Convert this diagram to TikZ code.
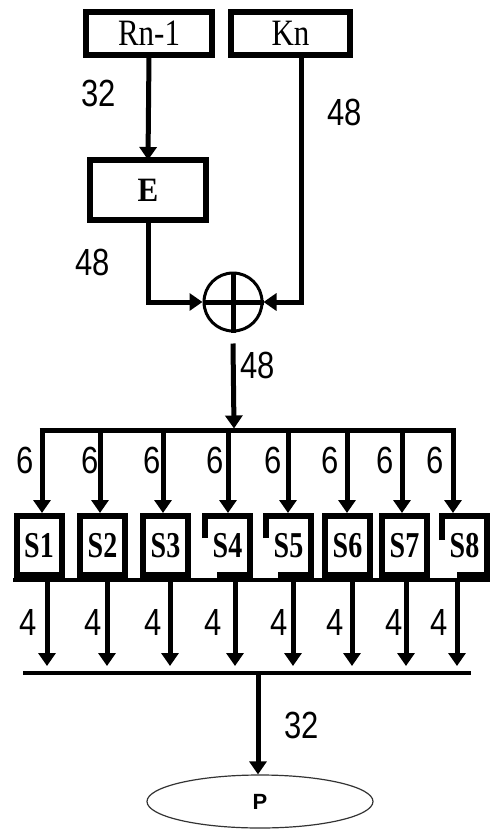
\documentclass[tikz,border=0pt]{standalone}
\usepackage{fontspec}
\usepackage{graphicx}
\setmainfont{Liberation Serif}
\newfontfamily\numfont{Liberation Sans}
\usetikzlibrary{arrows.meta,shapes.geometric}

% bit-width labels (sans) and box captions (serif), slightly tall
\newcommand\bits[1]{\scalebox{1}[1.22]{\numfont\fontsize{31}{31}\selectfont #1}}
\newcommand\boxcap[2]{\scalebox{1}[#1]{\fontsize{31}{31}\selectfont #2}}
\newcommand\scap[1]{\scalebox{1}[1.3]{\fontsize{28}{28}\selectfont\bfseries #1}}

\begin{document}
\begin{tikzpicture}[x=1pt,y=-1pt,
  blk/.style={draw, line width=6pt, inner sep=0pt, outer sep=0pt, line join=miter},
  sbox/.style={blk, minimum width=45pt, minimum height=59pt},
  sopen/.style={sbox, draw=none},
  conn/.style={line width=5pt},
  arr/.style={conn, -{Triangle[length=13pt,width=17pt]}},
  lbl/.style={inner sep=0pt, outer sep=0pt}]

\useasboundingbox (0,0) rectangle (491,830);

% input registers and expansion box
\node[blk, minimum width=126pt, minimum height=43pt] (R) at (149,33.5) {\boxcap{1.2}{Rn-1}};
\node[blk, minimum width=119pt, minimum height=43pt] (K) at (290.5,33.5) {\boxcap{1.2}{Kn}};
\node[blk, minimum width=116pt, minimum height=60pt] (E) at (148,190) {\boxcap{1.1}{\textbf{E}}};

% XOR
\node[draw, circle, line width=3pt, minimum size=58pt, inner sep=0pt] (X) at (233,302) {};
\draw[conn] (X.west) -- (X.east);
\draw[conn] (X.north) -- (X.south);

\draw[arr] (R.south) -- (E.north);
\draw[arr] (E.south) |- (X.west);
\coordinate (kdrop) at ([xshift=10.5pt]K.south);
\draw[arr] (kdrop) |- (X.east);

% split of the 48 bits into eight groups of six
\coordinate (split) at (234,430.5);
\draw[arr] ([yshift=-11pt]X.south) -- ([yshift=2pt]split);
\coordinate (barL) at (39.5,430.5);
\coordinate (barR) at (455.5,430.5);
\draw[conn] (barL) -- (barR);

\foreach \i/\ax in {1/42,2/100,3/163,4/228,5/288,6/347,7/402,8/453}{
  \coordinate (in\i) at (\ax,513);
  \draw[arr] (in\i |- split) -- (in\i);
}

% S-boxes
\foreach \i/\cx/\st in {1/39/sbox,2/102.5/sbox,3/165.5/sbox,4/227.5/sopen,
                        5/288.5/sopen,6/347.5/sbox,7/404.5/sbox,8/464.5/sopen}{
  \node[\st] (S\i) at (\cx,545.5) {\scap{S\i}};
}
\draw[line width=6pt, line join=miter] ([yshift=-22pt]S4.north west) -- (S4.north west)
  -- (S4.north east) -- (S4.south east) -- ([xshift=12pt]S4.south west);
\draw[line width=6pt, line join=miter] ([yshift=-22pt]S5.north west) -- (S5.north west)
  -- (S5.north east) -- (S5.south east) -- ([xshift=12pt]S5.south west);
\draw[line width=6pt, line join=miter] ([yshift=-24pt]S8.north west) -- (S8.north west)
  -- (S8.north east) -- (S8.south east) -- ([xshift=15pt]S8.south west);

% strip joining the S-box bottoms
\coordinate (stripL) at (13,580);
\coordinate (stripR) at (490,580);
\draw[line width=4pt] (stripL) -- (stripR);

% outputs of the S-boxes
\coordinate (merge) at (258,673);
\foreach \i/\ox in {1/47,2/107,3/170,4/235,5/293,6/352,7/406,8/457}{
  \coordinate (out\i) at (\ox,582);
  \draw[arr] (out\i) -- (\ox,666);
}
\coordinate (mergeL) at (23,673);
\coordinate (mergeR) at (471,673);
\draw[line width=4pt] (mergeL) -- (mergeR);

% permutation
\node[draw=black!80, line width=1.2pt, ellipse, minimum width=226pt, minimum height=53pt,
      inner sep=0pt] (P) at (260,801.5) {\numfont\fontsize{22}{22}\selectfont\bfseries P};
\draw[arr] (merge) -- (merge |- P.north);

% bit widths
\node[lbl] (w32a) at (99,93) {\bits{32}};
\node[lbl] (w48k) at (345,112) {\bits{48}};
\node[lbl] (w48e) at (93,262) {\bits{48}};
\node[lbl] (w48x) at (258,365) {\bits{48}};
\foreach \i/\lx in {1/25,2/90,3/152,4/215,5/273,6/330,7/385,8/435}{
  \node[lbl] (six\i) at (\lx,460) {\bits{6}};
}
\foreach \i/\lx in {1/28,2/93,3/153,4/213,5/279,6/335,7/394,8/439}{
  \node[lbl] (four\i) at (\lx,622) {\bits{4}};
}
\node[lbl] (w32p) at (302,725) {\bits{32}};
\end{tikzpicture}
\end{document}
